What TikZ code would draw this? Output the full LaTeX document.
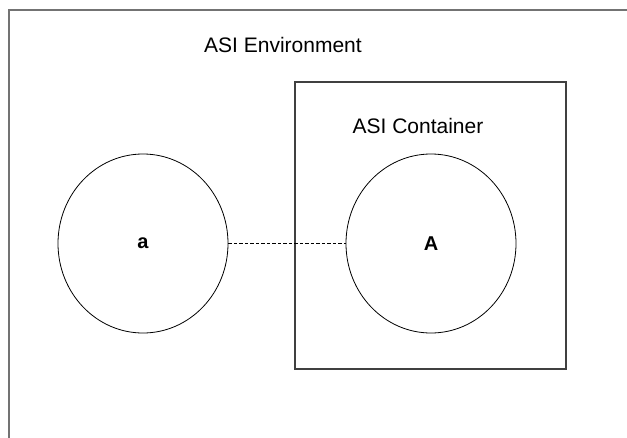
\documentclass[tikz,border=0pt]{standalone}
\usepackage{fontspec}
\setmainfont{Liberation Sans}
\usetikzlibrary{shapes.geometric}

\tikzset{
  unit/.style={ellipse,draw,line width=0.8pt,minimum width=170pt,minimum height=179pt,inner sep=0pt,font=\fontsize{20}{24}\selectfont\bfseries},
  boxlabel/.style={inner sep=0pt,font=\fontsize{21}{25}\selectfont},
  link/.style={draw,line width=0.8pt,dash pattern=on 3.5pt off 2pt}
}

\begin{document}
\begin{tikzpicture}[x=1pt,y=-1pt]
\useasboundingbox (0,0) rectangle (627,437);
\clip (0,0) rectangle (627,437);
\draw[black!55,line width=1.6pt] (9,450) -- (9,10) -- (640,10);
\node[draw=black!75,line width=1.2pt,minimum width=271pt,minimum height=287pt,inner sep=0pt] (cont) at (430.5,225.5) {};
\node[boxlabel] (envlbl) at (283,45) {ASI Environment};
\node[boxlabel] (contlbl) at (418,126) {ASI Container};
\node[unit] (a) at (143,243.5) {a};
\node[unit] (A) at (431,243.5) {A};
\draw[link] (a.east) -- (A.west);
\end{tikzpicture}
\end{document}
